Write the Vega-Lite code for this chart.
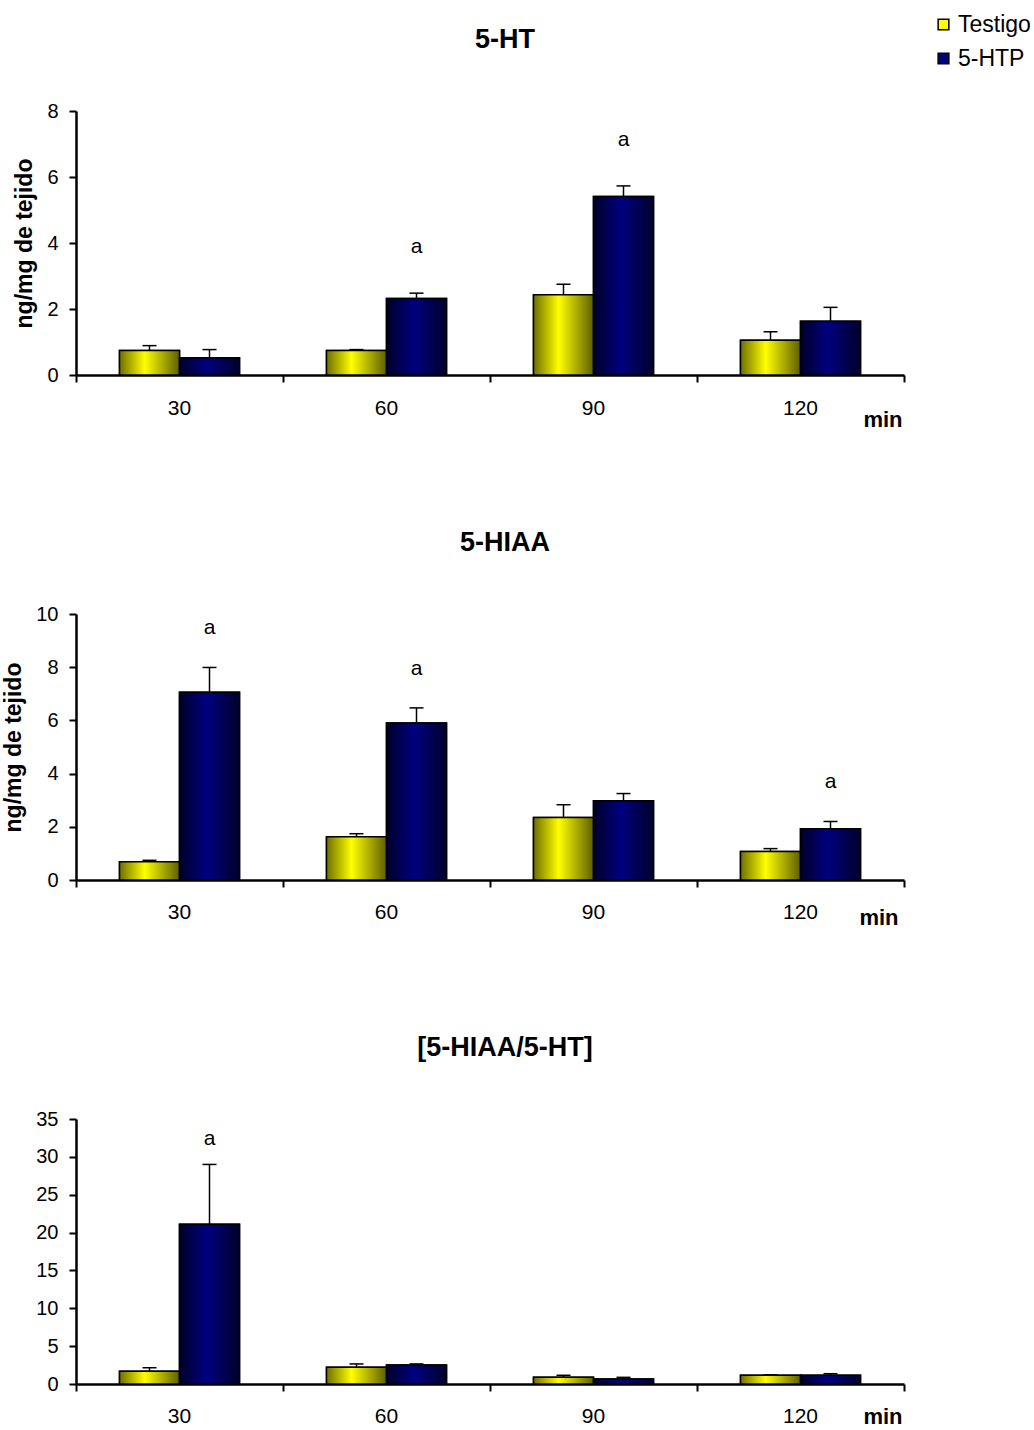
{
  "$schema": "https://vega.github.io/schema/vega-lite/v6.json",
  "background": "white",
  "padding": {"top": 13, "left": 2, "right": 0, "bottom": 0},
  "config": {
    "font": "Liberation Sans",
    "view": {"stroke": null},
    "axis": {"grid": false, "domainColor": "black", "domainWidth": 2.5, "tickColor": "black", "tickWidth": 2, "tickSize": 7, "labelColor": "black", "titleColor": "black"},
    "axisY": {"labelFontSize": 20, "labelPadding": 11, "titleFontSize": 23, "titleFontWeight": "bold", "titlePadding": 10},
    "title": {"fontSize": 27, "fontWeight": "bold", "color": "black", "frame": "group", "dx": 15, "offset": 47},
    "legend": {"title": null, "orient": "none", "legendX": 856, "legendY": -98, "symbolType": "square", "symbolSize": 115, "symbolStrokeColor": "black", "symbolStrokeWidth": 1.5, "labelFontSize": 23, "labelColor": "black", "rowPadding": 10, "labelOffset": 3, "padding": 0}
  },
  "bounds": "flush",
  "spacing": 239,
  "resolve": {"scale": {"color": "shared", "y": "independent", "x": "independent", "xOffset": "independent"}},
  "datasets": {
    "d": [
      {"p": 1, "m": "30", "s": "Testigo", "v": 0.74, "e": 0.89, "a": ""},
      {"p": 1, "m": "30", "s": "5-HTP", "v": 0.52, "e": 0.77, "a": ""},
      {"p": 1, "m": "60", "s": "Testigo", "v": 0.74, "e": 0.77, "a": ""},
      {"p": 1, "m": "60", "s": "5-HTP", "v": 2.32, "e": 2.48, "a": "a"},
      {"p": 1, "m": "90", "s": "Testigo", "v": 2.43, "e": 2.75, "a": ""},
      {"p": 1, "m": "90", "s": "5-HTP", "v": 5.41, "e": 5.73, "a": "a"},
      {"p": 1, "m": "120", "s": "Testigo", "v": 1.05, "e": 1.31, "a": ""},
      {"p": 1, "m": "120", "s": "5-HTP", "v": 1.63, "e": 2.05, "a": ""},
      {"p": 2, "m": "30", "s": "Testigo", "v": 0.69, "e": 0.74, "a": ""},
      {"p": 2, "m": "30", "s": "5-HTP", "v": 7.06, "e": 7.99, "a": "a"},
      {"p": 2, "m": "60", "s": "Testigo", "v": 1.63, "e": 1.74, "a": ""},
      {"p": 2, "m": "60", "s": "5-HTP", "v": 5.9, "e": 6.47, "a": "a"},
      {"p": 2, "m": "90", "s": "Testigo", "v": 2.35, "e": 2.83, "a": ""},
      {"p": 2, "m": "90", "s": "5-HTP", "v": 2.98, "e": 3.25, "a": ""},
      {"p": 2, "m": "120", "s": "Testigo", "v": 1.07, "e": 1.18, "a": ""},
      {"p": 2, "m": "120", "s": "5-HTP", "v": 1.93, "e": 2.2, "a": "a"},
      {"p": 3, "m": "30", "s": "Testigo", "v": 1.67, "e": 2.15, "a": ""},
      {"p": 3, "m": "30", "s": "5-HTP", "v": 21.1, "e": 29.0, "a": "a"},
      {"p": 3, "m": "60", "s": "Testigo", "v": 2.2, "e": 2.65, "a": ""},
      {"p": 3, "m": "60", "s": "5-HTP", "v": 2.5, "e": 2.65, "a": ""},
      {"p": 3, "m": "90", "s": "Testigo", "v": 0.88, "e": 1.15, "a": ""},
      {"p": 3, "m": "90", "s": "5-HTP", "v": 0.66, "e": 0.88, "a": ""},
      {"p": 3, "m": "120", "s": "Testigo", "v": 1.15, "e": 1.2, "a": ""},
      {"p": 3, "m": "120", "s": "5-HTP", "v": 1.15, "e": 1.36, "a": ""}
    ]
  },
  "vconcat": [
    {
      "width": 828, "height": 264,
      "title": {"text": "5-HT"},
      "data": {"name": "d"},
      "transform": [{"filter": "datum.p == 1"}],
      "encoding": {
        "x": {"field": "m", "type": "nominal", "sort": ["30", "60", "90", "120"], "scale": {"paddingInner": 0, "paddingOuter": 0},
          "axis": {"title": "min", "labelAngle": 0, "labelFontSize": 21, "labelPadding": 15, "bandPosition": 1, "tickExtra": true, "titleFontSize": 22, "titleFontWeight": "bold", "titleAnchor": "end", "titleAlign": "right", "titleX": 826, "titleY": 51, "titleBaseline": "alphabetic"}},
        "xOffset": {"field": "s", "type": "nominal", "scale": {"domain": ["Testigo", "5-HTP"], "paddingOuter": 0.725, "paddingInner": 0}}
      },
      "layer": [
        {"mark": {"type": "bar", "stroke": "black", "strokeWidth": 1.5},
         "encoding": {
           "y": {"field": "v", "type": "quantitative", "scale": {"domain": [0, 8]}, "axis": {"title": "ng/mg de tejido", "values": [0, 2, 4, 6, 8]}},
           "color": {"field": "s", "type": "nominal", "scale": {"domain": ["Testigo", "5-HTP"], "range": ["#ffff00", "#000080"]}}
         }},
        {"transform": [{"filter": "datum.s == 'Testigo'"}],
         "mark": {"type": "bar", "stroke": "black", "strokeWidth": 1.5, "fill": {"gradient": "linear", "x1": 0, "x2": 1, "y1": 0, "y2": 0, "stops": [{"offset": 0, "color": "#6e6e00"}, {"offset": 0.42, "color": "#ffff00"}, {"offset": 1, "color": "#5e5e00"}]}},
         "encoding": {"y": {"field": "v", "type": "quantitative", "scale": {"domain": [0, 8]}, "axis": {"title": "ng/mg de tejido", "values": [0, 2, 4, 6, 8]}}}},
        {"transform": [{"filter": "datum.s == '5-HTP'"}],
         "mark": {"type": "bar", "stroke": "black", "strokeWidth": 1.5, "fill": {"gradient": "linear", "x1": 0, "x2": 1, "y1": 0, "y2": 0, "stops": [{"offset": 0, "color": "#000028"}, {"offset": 0.45, "color": "#000080"}, {"offset": 1, "color": "#00002c"}]}},
         "encoding": {"y": {"field": "v", "type": "quantitative", "scale": {"domain": [0, 8]}, "axis": {"title": "ng/mg de tejido", "values": [0, 2, 4, 6, 8]}}}},
        {"mark": {"type": "rule", "color": "black", "strokeWidth": 1.5},
         "encoding": {"y": {"field": "v", "type": "quantitative", "scale": {"domain": [0, 8]}, "axis": {"title": "ng/mg de tejido", "values": [0, 2, 4, 6, 8]}}, "y2": {"field": "e"}}},
        {"mark": {"type": "tick", "color": "black", "size": 14, "thickness": 1.5, "opacity": 1},
         "encoding": {"y": {"field": "e", "type": "quantitative", "scale": {"domain": [0, 8]}, "axis": {"title": "ng/mg de tejido", "values": [0, 2, 4, 6, 8]}}}},
        {"transform": [{"filter": "datum.a != ''"}],
         "mark": {"type": "text", "fontSize": 21, "baseline": "middle", "dy": -46, "color": "black"},
         "encoding": {"y": {"field": "e", "type": "quantitative", "scale": {"domain": [0, 8]}, "axis": {"title": "ng/mg de tejido", "values": [0, 2, 4, 6, 8]}}, "text": {"field": "a"}}}
      ]
    },
    {
      "width": 828, "height": 266,
      "title": {"text": "5-HIAA"},
      "data": {"name": "d"},
      "transform": [{"filter": "datum.p == 2"}],
      "encoding": {
        "x": {"field": "m", "type": "nominal", "sort": ["30", "60", "90", "120"], "scale": {"paddingInner": 0, "paddingOuter": 0},
          "axis": {"title": "min", "labelAngle": 0, "labelFontSize": 21, "labelPadding": 14, "bandPosition": 1, "tickExtra": true, "titleFontSize": 22, "titleFontWeight": "bold", "titleAnchor": "end", "titleAlign": "right", "titleX": 822, "titleY": 44, "titleBaseline": "alphabetic"}},
        "xOffset": {"field": "s", "type": "nominal", "scale": {"domain": ["Testigo", "5-HTP"], "paddingOuter": 0.725, "paddingInner": 0}}
      },
      "layer": [
        {"mark": {"type": "bar", "stroke": "black", "strokeWidth": 1.5},
         "encoding": {
           "y": {"field": "v", "type": "quantitative", "scale": {"domain": [0, 10]}, "axis": {"title": "ng/mg de tejido", "values": [0, 2, 4, 6, 8, 10]}},
           "color": {"field": "s", "type": "nominal", "scale": {"domain": ["Testigo", "5-HTP"], "range": ["#ffff00", "#000080"]}}
         }},
        {"transform": [{"filter": "datum.s == 'Testigo'"}],
         "mark": {"type": "bar", "stroke": "black", "strokeWidth": 1.5, "fill": {"gradient": "linear", "x1": 0, "x2": 1, "y1": 0, "y2": 0, "stops": [{"offset": 0, "color": "#6e6e00"}, {"offset": 0.42, "color": "#ffff00"}, {"offset": 1, "color": "#5e5e00"}]}},
         "encoding": {"y": {"field": "v", "type": "quantitative", "scale": {"domain": [0, 10]}, "axis": {"title": "ng/mg de tejido", "values": [0, 2, 4, 6, 8, 10]}}}},
        {"transform": [{"filter": "datum.s == '5-HTP'"}],
         "mark": {"type": "bar", "stroke": "black", "strokeWidth": 1.5, "fill": {"gradient": "linear", "x1": 0, "x2": 1, "y1": 0, "y2": 0, "stops": [{"offset": 0, "color": "#000028"}, {"offset": 0.45, "color": "#000080"}, {"offset": 1, "color": "#00002c"}]}},
         "encoding": {"y": {"field": "v", "type": "quantitative", "scale": {"domain": [0, 10]}, "axis": {"title": "ng/mg de tejido", "values": [0, 2, 4, 6, 8, 10]}}}},
        {"mark": {"type": "rule", "color": "black", "strokeWidth": 1.5},
         "encoding": {"y": {"field": "v", "type": "quantitative", "scale": {"domain": [0, 10]}, "axis": {"title": "ng/mg de tejido", "values": [0, 2, 4, 6, 8, 10]}}, "y2": {"field": "e"}}},
        {"mark": {"type": "tick", "color": "black", "size": 14, "thickness": 1.5, "opacity": 1},
         "encoding": {"y": {"field": "e", "type": "quantitative", "scale": {"domain": [0, 10]}, "axis": {"title": "ng/mg de tejido", "values": [0, 2, 4, 6, 8, 10]}}}},
        {"transform": [{"filter": "datum.a != ''"}],
         "mark": {"type": "text", "fontSize": 21, "baseline": "middle", "dy": -39, "color": "black"},
         "encoding": {"y": {"field": "e", "type": "quantitative", "scale": {"domain": [0, 10]}, "axis": {"title": "ng/mg de tejido", "values": [0, 2, 4, 6, 8, 10]}}, "text": {"field": "a"}}}
      ]
    },
    {
      "width": 828, "height": 265,
      "title": {"text": "[5-HIAA/5-HT]"},
      "data": {"name": "d"},
      "transform": [{"filter": "datum.p == 3"}],
      "encoding": {
        "x": {"field": "m", "type": "nominal", "sort": ["30", "60", "90", "120"], "scale": {"paddingInner": 0, "paddingOuter": 0},
          "axis": {"title": "min", "labelAngle": 0, "labelFontSize": 21, "labelPadding": 14, "bandPosition": 1, "tickExtra": true, "titleFontSize": 22, "titleFontWeight": "bold", "titleAnchor": "end", "titleAlign": "right", "titleX": 826, "titleY": 39, "titleBaseline": "alphabetic"}},
        "xOffset": {"field": "s", "type": "nominal", "scale": {"domain": ["Testigo", "5-HTP"], "paddingOuter": 0.725, "paddingInner": 0}}
      },
      "layer": [
        {"mark": {"type": "bar", "stroke": "black", "strokeWidth": 1.5},
         "encoding": {
           "y": {"field": "v", "type": "quantitative", "scale": {"domain": [0, 35]}, "axis": {"title": null, "values": [0, 5, 10, 15, 20, 25, 30, 35]}},
           "color": {"field": "s", "type": "nominal", "scale": {"domain": ["Testigo", "5-HTP"], "range": ["#ffff00", "#000080"]}}
         }},
        {"transform": [{"filter": "datum.s == 'Testigo'"}],
         "mark": {"type": "bar", "stroke": "black", "strokeWidth": 1.5, "fill": {"gradient": "linear", "x1": 0, "x2": 1, "y1": 0, "y2": 0, "stops": [{"offset": 0, "color": "#6e6e00"}, {"offset": 0.42, "color": "#ffff00"}, {"offset": 1, "color": "#5e5e00"}]}},
         "encoding": {"y": {"field": "v", "type": "quantitative", "scale": {"domain": [0, 35]}, "axis": {"title": null, "values": [0, 5, 10, 15, 20, 25, 30, 35]}}}},
        {"transform": [{"filter": "datum.s == '5-HTP'"}],
         "mark": {"type": "bar", "stroke": "black", "strokeWidth": 1.5, "fill": {"gradient": "linear", "x1": 0, "x2": 1, "y1": 0, "y2": 0, "stops": [{"offset": 0, "color": "#000028"}, {"offset": 0.45, "color": "#000080"}, {"offset": 1, "color": "#00002c"}]}},
         "encoding": {"y": {"field": "v", "type": "quantitative", "scale": {"domain": [0, 35]}, "axis": {"title": null, "values": [0, 5, 10, 15, 20, 25, 30, 35]}}}},
        {"mark": {"type": "rule", "color": "black", "strokeWidth": 1.5},
         "encoding": {"y": {"field": "v", "type": "quantitative", "scale": {"domain": [0, 35]}, "axis": {"title": null, "values": [0, 5, 10, 15, 20, 25, 30, 35]}}, "y2": {"field": "e"}}},
        {"mark": {"type": "tick", "color": "black", "size": 14, "thickness": 1.5, "opacity": 1},
         "encoding": {"y": {"field": "e", "type": "quantitative", "scale": {"domain": [0, 35]}, "axis": {"title": null, "values": [0, 5, 10, 15, 20, 25, 30, 35]}}}},
        {"transform": [{"filter": "datum.a != ''"}],
         "mark": {"type": "text", "fontSize": 21, "baseline": "middle", "dy": -25, "color": "black"},
         "encoding": {"y": {"field": "e", "type": "quantitative", "scale": {"domain": [0, 35]}, "axis": {"title": null, "values": [0, 5, 10, 15, 20, 25, 30, 35]}}, "text": {"field": "a"}}}
      ]
    }
  ]
}
